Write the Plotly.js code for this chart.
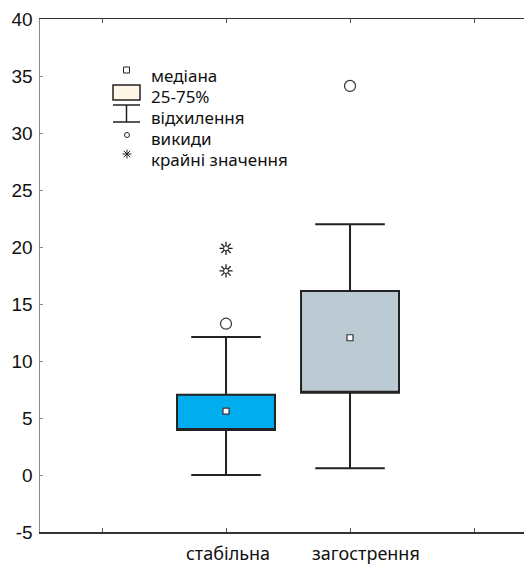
<!DOCTYPE html>
<html>
<head>
<meta charset="utf-8">
<script src="https://cdn.plot.ly/plotly-3.0.1.min.js"></script>
<style>html,body{margin:0;padding:0;background:#fff;}#chart{width:524px;height:566px;}</style>
</head>
<body>
<div id="chart"></div>
<script>
// ---- data ----
const categories = ['стабільна', 'загострення'];
const xpos = [1, 2];
const q1 = [3.95, 7.22];
const median = [5.6, 12.04];
const q3 = [7.05, 16.13];
const lowerWhisker = [0, 0.6];
const upperWhisker = [12.1, 22.0];
const outlierX = [1, 2];
const outlierY = [13.27, 34.13];
const extremeX = [1, 1];
const extremeY = [19.88, 17.9];
const boxColors = ['#00aeef', '#bccad3'];
const legendLabels = ['медіана', '25-75%', 'відхилення', 'викиди', 'крайні значення'];
const yTicks = [-5, 0, 5, 10, 15, 20, 25, 30, 35, 40];
const yTickText = ['-5', '0', '5', '10', '15', '20', '25', '30', '35', '40'];

// ---- geometry helpers (pixel -> paper) ----
const W = 524, H = 566, ML = 40, MR = 0, MT = 19, MB = 34;
const PW = W - ML - MR, PH = H - MT - MB;
const px = v => (v - ML) / PW;
const py = v => (H - MB - v) / PH;

const traces = [];
categories.forEach((c, i) => {
  traces.push({
    type: 'box',
    x: [xpos[i]],
    q1: [q1[i]],
    median: [q1[i]],
    q3: [q3[i]],
    lowerfence: [lowerWhisker[i]],
    upperfence: [upperWhisker[i]],
    width: 0.79,
    whiskerwidth: 0.71,
    fillcolor: boxColors[i],
    line: {color: '#222', width: 2},
    boxpoints: false,
    hoverinfo: 'skip',
    showlegend: false
  });
});
traces.push({
  type: 'scatter', mode: 'markers', x: xpos, y: median,
  marker: {symbol: 'square', size: 6, color: '#fff', line: {color: '#333', width: 1.2}},
  showlegend: false, hoverinfo: 'skip'
});
traces.push({
  type: 'scatter', mode: 'markers', x: outlierX, y: outlierY,
  marker: {symbol: 'circle', size: 11, color: 'rgba(255,255,255,1)', line: {color: '#333', width: 1.2}},
  showlegend: false, hoverinfo: 'skip'
});
traces.push({
  type: 'scatter', mode: 'markers', x: extremeX, y: extremeY,
  marker: {symbol: 'asterisk-open', size: 11, color: '#222', line: {color: '#222', width: 1.3}},
  showlegend: false, hoverinfo: 'skip'
});
traces.push({
  type: 'scatter', mode: 'markers', x: extremeX, y: extremeY,
  marker: {symbol: 'circle', size: 5, color: '#fff', line: {color: '#222', width: 1}},
  showlegend: false, hoverinfo: 'skip'
});

// ---- legend drawn with shapes and annotations ----
const shapes = [];
const dark = '#222';
shapes.push({type: 'rect', xref: 'paper', yref: 'paper', x0: px(123.5), x1: px(129.5), y0: py(67), y1: py(73), line: {color: dark, width: 1}, fillcolor: '#fff'});
shapes.push({type: 'rect', xref: 'paper', yref: 'paper', x0: px(113), x1: px(140), y0: py(85), y1: py(100), line: {color: dark, width: 1.5}, fillcolor: '#fdf6e6'});
shapes.push({type: 'line', xref: 'paper', yref: 'paper', x0: px(113), x1: px(140), y0: py(105), y1: py(105), line: {color: dark, width: 1.5}});
shapes.push({type: 'line', xref: 'paper', yref: 'paper', x0: px(126.5), x1: px(126.5), y0: py(105), y1: py(122), line: {color: dark, width: 1.5}});
shapes.push({type: 'line', xref: 'paper', yref: 'paper', x0: px(113), x1: px(140), y0: py(122), y1: py(122), line: {color: dark, width: 1.5}});
shapes.push({type: 'circle', xref: 'paper', yref: 'paper', x0: px(124.5), x1: px(129.5), y0: py(132.5), y1: py(137.5), line: {color: dark, width: 1}, fillcolor: '#fff'});
// asterisk glyph
const ax = 127, ay = 154, r = 4.5;
[[0, 1], [1, 0], [0.707, 0.707], [0.707, -0.707]].forEach(d => {
  shapes.push({type: 'line', xref: 'paper', yref: 'paper', x0: px(ax - r * d[0]), x1: px(ax + r * d[0]), y0: py(ay - r * d[1]), y1: py(ay + r * d[1]), line: {color: dark, width: 1}});
});

const annotations = [];
const legendY = [75, 96, 117, 138, 159];
legendLabels.forEach((t, i) => {
  annotations.push({xref: 'paper', yref: 'paper', x: px(149), y: py(legendY[i]), xanchor: 'left', yanchor: 'middle', text: t, showarrow: false, font: {family: 'Noto Sans', size: 17, color: '#111'}});
});
// category labels
const catLabelX = [228, 366];
categories.forEach((c, i) => {
  annotations.push({xref: 'paper', yref: 'paper', x: px(catLabelX[i]), y: py(553), xanchor: 'center', yanchor: 'middle', text: c, showarrow: false, font: {family: 'Noto Sans', size: 18, color: '#111'}});
});

const layout = {
  width: W, height: H,
  margin: {l: ML, r: MR, t: MT, b: MB, pad: 0},
  paper_bgcolor: '#fff', plot_bgcolor: '#fff',
  showlegend: false,
  xaxis: {
    type: 'linear', range: [-0.5, 3.403], tickvals: [0, 1, 2, 3], ticktext: ['', '', '', ''],
    ticks: 'inside', ticklen: 4, tickcolor: '#555', tickwidth: 1,
    showline: true, linecolor: '#333', linewidth: 1.5, mirror: 'ticks',
    showgrid: false, zeroline: false, fixedrange: true
  },
  yaxis: {
    range: [-5, 40], tickvals: yTicks, ticktext: yTickText, ticks: 'inside', ticklen: 3, tickcolor: '#888', tickwidth: 1,
    showline: true, linecolor: '#888', linewidth: 1.5, mirror: false,
    showgrid: false, zeroline: false,
    tickfont: {family: 'Liberation Sans', size: 19, color: '#111'}, ticklabelstandoff: 2
  },
  shapes: shapes,
  annotations: annotations
};

Plotly.newPlot('chart', traces, layout, {staticPlot: true, displayModeBar: false});
</script>
</body>
</html>
